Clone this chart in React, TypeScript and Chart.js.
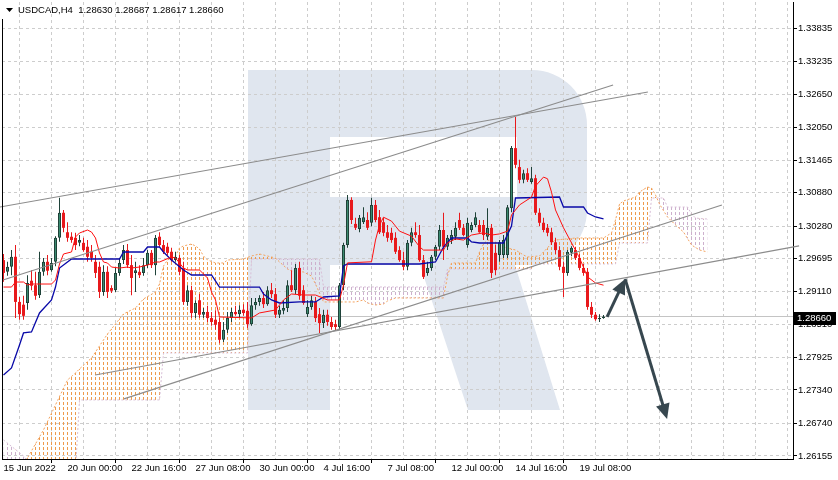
import React, { useEffect, useRef } from 'react';
import { Chart, registerables } from 'chart.js';

Chart.register(...registerables);

const chartTitle = 'USDCAD,H4  1.28630 1.28687 1.28617 1.28660';
const xTickIndex = [0, 16, 32, 48, 64, 80, 96, 112, 128, 144];
const xTickLabels = ['15 Jun 2022', '20 Jun 00:00', '22 Jun 16:00', '27 Jun 08:00', '30 Jun 00:00', '4 Jul 16:00', '7 Jul 08:00', '12 Jul 00:00', '14 Jul 16:00', '19 Jul 08:00'];
const xGridStep = 8;
const yTickValues = [1.33835, 1.33235, 1.3265, 1.3205, 1.31465, 1.3088, 1.3028, 1.29695, 1.2911, 1.2851, 1.27925, 1.2734, 1.2674, 1.26155];
const currentPrice = 1.2866;
const xMin = -0.375;
const xMax = 197.375;
const yMin = 1.26101;
const yMax = 1.34302;

const openP = [
  1.2967, 1.2946, 1.2955, 1.2973, 1.2892, 1.2887, 1.2890, 1.2930, 1.2922, 1.2904,
  1.2946, 1.2964, 1.2949, 1.2964, 1.3007, 1.3052, 1.3017, 1.3009, 1.3007, 1.2998,
  1.2998, 1.2991, 1.2982, 1.2964, 1.2955, 1.2910, 1.2946, 1.2917, 1.2913, 1.2944,
  1.2967, 1.2985, 1.2958, 1.2944, 1.2946, 1.2944, 1.2958, 1.2980, 1.2958, 1.3009,
  1.2994, 1.2991, 1.2982, 1.2967, 1.2971, 1.2953, 1.2892, 1.2913, 1.2872, 1.2895,
  1.2869, 1.2874, 1.2863, 1.2860, 1.2856, 1.2824, 1.2842, 1.2863, 1.2874, 1.2870,
  1.2878, 1.2876, 1.2852, 1.2886, 1.2892, 1.2899, 1.2888, 1.2913, 1.2906, 1.2869,
  1.2876, 1.2881, 1.2922, 1.2913, 1.2953, 1.2913, 1.2870, 1.2883, 1.2892, 1.2870,
  1.2854, 1.2869, 1.2856, 1.2852, 1.2847, 1.2922, 1.2994, 1.3075, 1.3032, 1.3023,
  1.3035, 1.3039, 1.3034, 1.3066, 1.3044, 1.3035, 1.3017, 1.3016, 1.3007, 1.2985,
  1.2967, 1.2955, 1.2998, 1.3017, 1.3012, 1.2967, 1.2944, 1.2953, 1.2973, 1.2991,
  1.3021, 1.2991, 1.3003, 1.3009, 1.3039, 1.3025, 1.2994, 1.3021, 1.3030, 1.3030,
  1.3030, 1.3009, 1.3025, 1.2980, 1.2976, 1.2976, 1.2976, 1.3060, 1.3168, 1.3134,
  1.3111, 1.3123, 1.3107, 1.3114, 1.3052, 1.3034, 1.3025, 1.3017, 1.2999, 1.2985,
  1.2955, 1.2944, 1.2980, 1.2985, 1.2971, 1.2953, 1.2946, 1.2883, 1.2869, 1.2861,
  1.2863
];
const highP = [
  1.2978, 1.2964, 1.2985, 1.2994, 1.2901, 1.2903, 1.2940, 1.2949, 1.2946, 1.2982,
  1.2971, 1.2976, 1.2971, 1.3010, 1.3079, 1.3057, 1.3035, 1.3017, 1.3016, 1.3012,
  1.3007, 1.3003, 1.2994, 1.2976, 1.2964, 1.2958, 1.2956, 1.2922, 1.2953, 1.2971,
  1.2994, 1.2996, 1.2976, 1.2964, 1.2958, 1.2971, 1.2985, 1.2985, 1.3012, 1.3017,
  1.3003, 1.2998, 1.2989, 1.2982, 1.2976, 1.2964, 1.2922, 1.2921, 1.2895, 1.2906,
  1.2881, 1.2885, 1.2874, 1.2877, 1.2863, 1.2856, 1.2874, 1.2881, 1.2885, 1.2886,
  1.2888, 1.2892, 1.2899, 1.2899, 1.2904, 1.2910, 1.2920, 1.2926, 1.2917, 1.2885,
  1.2895, 1.2931, 1.2949, 1.2960, 1.2964, 1.2922, 1.2895, 1.2903, 1.2901, 1.2881,
  1.2878, 1.2878, 1.2865, 1.2860, 1.2926, 1.2998, 1.3084, 1.3080, 1.3043, 1.3048,
  1.3062, 1.3053, 1.3079, 1.3075, 1.3057, 1.3043, 1.3030, 1.3025, 1.3017, 1.2992,
  1.2982, 1.3003, 1.3025, 1.3035, 1.3030, 1.2976, 1.2964, 1.2976, 1.2994, 1.3030,
  1.3052, 1.3012, 1.3021, 1.3035, 1.3052, 1.3032, 1.3043, 1.3035, 1.3053, 1.3039,
  1.3039, 1.3060, 1.3032, 1.2994, 1.3003, 1.3012, 1.3066, 1.3172, 1.3224, 1.3147,
  1.3129, 1.3132, 1.3134, 1.3120, 1.3060, 1.3043, 1.3032, 1.3025, 1.3007, 1.2992,
  1.2964, 1.2985, 1.2992, 1.2991, 1.2978, 1.2960, 1.2953, 1.2892, 1.2874, 1.2870,
  1.28687
];
const lowP = [
  1.2928, 1.2939, 1.2940, 1.2863, 1.2860, 1.2860, 1.2878, 1.2913, 1.2896, 1.2899,
  1.2939, 1.2940, 1.2946, 1.2956, 1.3000, 1.3017, 1.3000, 1.2998, 1.2985, 1.2992,
  1.2982, 1.2964, 1.2964, 1.2935, 1.2899, 1.2903, 1.2899, 1.2908, 1.2910, 1.2939,
  1.2960, 1.2953, 1.2904, 1.2910, 1.2935, 1.2939, 1.2953, 1.2953, 1.2940, 1.2991,
  1.2978, 1.2976, 1.2964, 1.2964, 1.2940, 1.2887, 1.2885, 1.2863, 1.2863, 1.2863,
  1.2863, 1.2856, 1.2849, 1.2842, 1.2818, 1.2820, 1.2836, 1.2856, 1.2867, 1.2863,
  1.2867, 1.2845, 1.2849, 1.2878, 1.2885, 1.2881, 1.2885, 1.2899, 1.2863, 1.2863,
  1.2870, 1.2874, 1.2910, 1.2906, 1.2896, 1.2887, 1.2865, 1.2878, 1.2856, 1.2836,
  1.2845, 1.2849, 1.2842, 1.2840, 1.2842, 1.2913, 1.2989, 1.3032, 1.3021, 1.3017,
  1.3032, 1.3021, 1.3028, 1.3035, 1.3014, 1.3010, 1.3000, 1.2998, 1.2978, 1.2964,
  1.2949, 1.2949, 1.2992, 1.3007, 1.2964, 1.2933, 1.2939, 1.2948, 1.2967, 1.2985,
  1.2967, 1.2985, 1.2996, 1.3003, 1.3021, 1.3010, 1.2989, 1.3017, 1.3026, 1.3016,
  1.3003, 1.3003, 1.2935, 1.2940, 1.2964, 1.2971, 1.2971, 1.3053, 1.3132, 1.3105,
  1.3105, 1.3107, 1.3104, 1.3048, 1.3028, 1.3017, 1.3010, 1.2994, 1.2978, 1.2949,
  1.2901, 1.2939, 1.2974, 1.2967, 1.2949, 1.2939, 1.2878, 1.2863, 1.2858, 1.2856,
  1.28617
];
const closeP = [
  1.2944, 1.2955, 1.2973, 1.2892, 1.2870, 1.2867, 1.2926, 1.2921, 1.2903, 1.2946,
  1.2964, 1.2948, 1.2962, 1.3007, 1.3052, 1.3025, 1.3007, 1.3003, 1.2994, 1.3003,
  1.2985, 1.2973, 1.2971, 1.2944, 1.2910, 1.2946, 1.2910, 1.2912, 1.2944, 1.2962,
  1.2985, 1.2958, 1.2935, 1.2949, 1.2940, 1.2958, 1.2980, 1.2958, 1.3007, 1.2994,
  1.2982, 1.2980, 1.2967, 1.2973, 1.2946, 1.2892, 1.2913, 1.2872, 1.2890, 1.2869,
  1.2874, 1.2863, 1.2856, 1.2851, 1.2824, 1.2842, 1.2863, 1.2874, 1.2870, 1.2878,
  1.2872, 1.2852, 1.2886, 1.2892, 1.2899, 1.2888, 1.2913, 1.2906, 1.2869, 1.2878,
  1.2881, 1.2922, 1.2913, 1.2953, 1.2903, 1.2890, 1.2883, 1.2895, 1.2863, 1.2854,
  1.2869, 1.2856, 1.2847, 1.2847, 1.2922, 1.2994, 1.3075, 1.3039, 1.3025, 1.3043,
  1.3044, 1.3025, 1.3066, 1.3039, 1.3017, 1.3016, 1.3007, 1.3003, 1.2982, 1.2967,
  1.2955, 1.2998, 1.3017, 1.3012, 1.2967, 1.2937, 1.2953, 1.2973, 1.2991, 1.3021,
  1.2991, 1.3007, 1.3012, 1.3025, 1.3025, 1.3012, 1.3034, 1.3030, 1.3044, 1.3017,
  1.3012, 1.3025, 1.2944, 1.2949, 1.2999, 1.3003, 1.3062, 1.3168, 1.3138, 1.3111,
  1.3123, 1.3111, 1.3114, 1.3052, 1.3034, 1.3021, 1.3016, 1.2999, 1.2985, 1.2955,
  1.2944, 1.2982, 1.2989, 1.2971, 1.2953, 1.2944, 1.2883, 1.2869, 1.2861, 1.2863,
  1.2866
];

const tenkanIdx = [0, 2, 3, 5, 6, 7, 12, 13, 14, 15, 17, 18, 19, 21, 22, 23, 24, 25, 26, 27, 29, 31, 32, 34, 36, 38, 39, 42, 43, 45, 46, 49, 51, 52, 53, 54, 62, 64, 68, 70, 72, 75, 78, 81, 84, 85, 86, 92, 93, 94, 95, 97, 99, 102, 104, 105, 110, 111, 113, 115, 117, 120, 122, 124, 126, 127, 129, 132, 133, 135, 136, 137, 138, 140, 142, 144, 146, 148, 150];
const tenkanVal = [1.29187, 1.29187, 1.29277, 1.29277, 1.29223, 1.29241, 1.29241, 1.29313, 1.296, 1.2978, 1.29816, 1.30085, 1.30157, 1.3021, 1.30174, 1.30067, 1.29798, 1.29636, 1.29618, 1.29546, 1.29528, 1.29546, 1.29528, 1.29546, 1.29582, 1.29636, 1.29636, 1.29726, 1.29708, 1.29528, 1.29493, 1.29493, 1.29349, 1.29098, 1.28955, 1.2865, 1.28632, 1.28722, 1.28775, 1.28955, 1.29062, 1.29044, 1.29044, 1.28955, 1.28955, 1.29223, 1.2962, 1.2964, 1.3003, 1.303, 1.3044, 1.3037, 1.3019, 1.301, 1.2991, 1.2985, 1.2985, 1.2998, 1.3005, 1.3003, 1.3012, 1.3016, 1.3012, 1.3014, 1.3019, 1.3048, 1.3066, 1.308, 1.31, 1.3116, 1.3113, 1.3089, 1.3057, 1.3025, 1.2998, 1.2971, 1.2937, 1.2926, 1.2922];

const kijunIdx = [0, 2, 4, 5, 7, 9, 12, 13, 14, 17, 29, 30, 35, 36, 39, 40, 42, 45, 47, 52, 54, 64, 65, 67, 69, 74, 78, 80, 84, 85, 86, 104, 108, 110, 112, 116, 117, 119, 125, 127, 128, 139, 140, 145, 146, 148, 150];
const kijunVal = [1.27609, 1.27735, 1.28148, 1.28363, 1.28381, 1.28722, 1.28955, 1.29187, 1.29528, 1.2969, 1.2969, 1.29816, 1.29816, 1.29905, 1.29905, 1.29816, 1.29672, 1.29493, 1.29403, 1.29403, 1.29187, 1.29187, 1.29062, 1.28955, 1.28901, 1.28919, 1.28919, 1.29008, 1.29026, 1.29564, 1.296, 1.296, 1.29636, 1.29905, 1.30067, 1.30067, 1.29995, 1.29977, 1.29977, 1.30282, 1.30785, 1.30803, 1.30623, 1.30623, 1.30516, 1.30444, 1.30408];

const cloudIdx = [0, 5, 6, 8, 10, 16, 18, 19, 22, 26, 30, 33, 35, 38, 39, 40, 41, 43, 44, 45, 47, 48, 49, 50, 51, 53, 55, 56, 60, 61, 62, 64, 66, 68, 69, 71, 72, 75, 77, 78, 79, 80, 88, 90, 91, 93, 95, 96, 98, 110, 111, 112, 118, 119, 120, 121, 123, 125, 128, 130, 131, 132, 133, 134, 136, 137, 138, 143, 150, 152, 153, 154, 155, 158, 159, 161, 162, 163, 164, 165, 166, 168, 170, 171, 172, 173, 174, 176];
const spanA = [
  1.25905, 1.26049, 1.2612, 1.26372, 1.26623, 1.2752, 1.27645, 1.27717, 1.27914, 1.28345,
  1.28704, 1.28811, 1.28973, 1.29098, 1.29241, 1.29564, 1.29672, 1.29744, 1.29888, 1.29924,
  1.29959, 1.29924, 1.2987, 1.29744, 1.29672, 1.29619, 1.29619, 1.29672, 1.2969, 1.29717,
  1.29744, 1.2978, 1.29744, 1.29708, 1.29637, 1.29511, 1.29475, 1.29457, 1.29385, 1.29241,
  1.29081, 1.28919, 1.28919, 1.28955, 1.28901, 1.28865, 1.28883, 1.28937, 1.28991, 1.28991,
  1.29385, 1.29619, 1.29619, 1.29816, 1.29959, 1.30031, 1.29995, 1.29906, 1.29852, 1.29762,
  1.29726, 1.29732, 1.29739, 1.29744, 1.29888, 1.29977, 1.30031, 1.30067, 1.30067, 1.30157,
  1.3039, 1.30677, 1.30731, 1.30803, 1.30892, 1.30982, 1.30964, 1.30839, 1.30677, 1.30557,
  1.30444, 1.303, 1.30175, 1.30058, 1.29941, 1.29897, 1.29852, 1.29816
];
const spanB = [
  1.26443, 1.26156, 1.26067, 1.25905, 1.25905, 1.25905, 1.25905, 1.27161, 1.27161, 1.27161,
  1.27161, 1.27161, 1.27161, 1.27161, 1.27161, 1.28004, 1.28004, 1.28004, 1.28004, 1.28004,
  1.28004, 1.28004, 1.28004, 1.28004, 1.28004, 1.28004, 1.28004, 1.28004, 1.28004, 1.28004,
  1.2969, 1.2969, 1.2969, 1.2969, 1.2969, 1.2969, 1.2969, 1.2969, 1.2969, 1.2969,
  1.2969, 1.29188, 1.29188, 1.29188, 1.29188, 1.29188, 1.29188, 1.29188, 1.29188, 1.29188,
  1.29511, 1.29511, 1.29511, 1.29511, 1.29511, 1.29511, 1.29511, 1.29511, 1.29511, 1.29511,
  1.29511, 1.29511, 1.29601, 1.29601, 1.29601, 1.29601, 1.29601, 1.29601, 1.29601, 1.29601,
  1.29601, 1.29977, 1.29977, 1.29977, 1.29977, 1.29977, 1.30785, 1.30785, 1.30785, 1.30785,
  1.30623, 1.30623, 1.30623, 1.30623, 1.30498, 1.30426, 1.30417, 1.30408
];

const trendStartIdx = [-0.875, -0.125, 22.9, 30.1];
const trendStartPrice = [1.30623, 1.29313, 1.27609, 1.27179];
const trendEndIdx = [161.1, 152.4, 198.9, 179.6];
const trendEndPrice = [1.32687, 1.32812, 1.29924, 1.30659];

const arrowIdx = [150.9, 155.4, 165.9];
const arrowPrice = [1.2865, 1.29332, 1.2682];

const FONT = '"Liberation Sans", Arial, sans-serif';
const ORANGE = '#f4a460';
const ORANGE_HATCH = '#ee9a4c';
const THISTLE = '#d8bfd8';
const THISTLE_HATCH = '#cdb0cd';

function drawArrow(ctx: CanvasRenderingContext2D, a: any, b: any) {
  const dx = b.x - a.x;
  const dy = b.y - a.y;
  const len = Math.hypot(dx, dy);
  const ux = dx / len;
  const uy = dy / len;
  const headLen = 15;
  const headW = 7;
  const bx = b.x - ux * headLen;
  const by = b.y - uy * headLen;
  ctx.beginPath();
  ctx.moveTo(a.x, a.y);
  ctx.lineTo(bx + ux * 2, by + uy * 2);
  ctx.stroke();
  ctx.beginPath();
  ctx.moveTo(b.x, b.y);
  ctx.lineTo(bx - uy * headW, by + ux * headW);
  ctx.lineTo(bx + uy * headW, by - ux * headW);
  ctx.closePath();
  ctx.fill();
}

function drawCloud(chart: any) {
  const ctx = chart.ctx as CanvasRenderingContext2D;
  const xs = chart.scales.x;
  const ys = chart.scales.y;
  const a = chart.chartArea;
  const P = cloudIdx.map((v, k) => ({
    x: xs.getPixelForValue(v),
    ya: ys.getPixelForValue(spanA[k]),
    yb: ys.getPixelForValue(spanB[k])
  }));
  const n = P.length;
  const region = new Path2D();
  P.forEach((p, k) => (k ? region.lineTo(p.x, p.ya) : region.moveTo(p.x, p.ya)));
  for (let k = n - 1; k >= 0; k--) region.lineTo(P[k].x, P[k].yb);
  region.closePath();
  const aboveB = new Path2D();
  aboveB.moveTo(P[0].x, a.top - 20);
  P.forEach((p) => aboveB.lineTo(p.x, p.yb));
  aboveB.lineTo(P[n - 1].x, a.top - 20);
  aboveB.closePath();
  const belowB = new Path2D();
  belowB.moveTo(P[0].x, a.bottom + 20);
  P.forEach((p) => belowB.lineTo(p.x, p.yb));
  belowB.lineTo(P[n - 1].x, a.bottom + 20);
  belowB.closePath();
  const lastBar = cloudIdx[n - 1];
  const hatch = (side: Path2D, color: string) => {
    ctx.save();
    ctx.beginPath();
    ctx.rect(a.left, a.top, a.right - a.left, a.bottom - a.top);
    ctx.clip();
    ctx.clip(region);
    ctx.clip(side);
    ctx.strokeStyle = color;
    ctx.lineWidth = 1;
    ctx.setLineDash([3, 2]);
    ctx.beginPath();
    for (let k = 0; k <= lastBar; k++) {
      const x = xs.getPixelForValue(k);
      ctx.moveTo(x, a.top);
      ctx.lineTo(x, a.bottom);
    }
    ctx.stroke();
    ctx.restore();
  };
  hatch(aboveB, ORANGE_HATCH);
  hatch(belowB, THISTLE_HATCH);
}

const decorPlugin = {
  id: 'decor',
  beforeDraw(chart: any) {
    const ctx = chart.ctx as CanvasRenderingContext2D;
    ctx.save();
    ctx.fillStyle = '#ffffff';
    ctx.fillRect(0, 0, chart.width, chart.height);
    ctx.fillStyle = '#e0e6ef';
    ctx.beginPath();
    ctx.moveTo(248, 70);
    ctx.lineTo(532, 70);
    ctx.arcTo(587, 70, 587, 125, 55);
    ctx.lineTo(587, 210);
    ctx.arcTo(587, 265, 532, 265, 55);
    ctx.lineTo(248, 265);
    ctx.closePath();
    ctx.rect(330, 137, 187, 60);
    ctx.fill('evenodd');
    ctx.beginPath();
    ctx.rect(248, 265, 82, 145);
    ctx.moveTo(420, 265);
    ctx.lineTo(515, 265);
    ctx.lineTo(560, 410);
    ctx.lineTo(468, 410);
    ctx.closePath();
    ctx.fill();
    ctx.restore();
  },
  beforeDatasetsDraw(chart: any) {
    const ctx = chart.ctx as CanvasRenderingContext2D;
    const a = chart.chartArea;
    drawCloud(chart);
    const py = Math.round(chart.scales.y.getPixelForValue(currentPrice)) + 0.5;
    ctx.save();
    ctx.strokeStyle = '#c4c4c4';
    ctx.lineWidth = 1;
    ctx.beginPath();
    ctx.moveTo(a.left, py);
    ctx.lineTo(a.right, py);
    ctx.stroke();
    ctx.restore();
  },
  afterDatasetsDraw(chart: any) {
    const ctx = chart.ctx as CanvasRenderingContext2D;
    const xs = chart.scales.x;
    const ys = chart.scales.y;
    const pts = arrowIdx.map((v, k) => ({ x: xs.getPixelForValue(v), y: ys.getPixelForValue(arrowPrice[k]) }));
    ctx.save();
    ctx.strokeStyle = '#37474f';
    ctx.fillStyle = '#37474f';
    ctx.lineWidth = 3;
    ctx.lineCap = 'butt';
    drawArrow(ctx, pts[0], pts[1]);
    drawArrow(ctx, pts[1], pts[2]);
    ctx.restore();
  },
  afterDraw(chart: any) {
    const ctx = chart.ctx as CanvasRenderingContext2D;
    const a = chart.chartArea;
    ctx.save();
    ctx.strokeStyle = '#000000';
    ctx.lineWidth = 1;
    ctx.beginPath();
    ctx.moveTo(a.left + 0.5, 19);
    ctx.lineTo(a.left + 0.5, a.bottom);
    ctx.stroke();
    ctx.fillStyle = '#000000';
    ctx.beginPath();
    ctx.moveTo(6, 8);
    ctx.lineTo(13, 8);
    ctx.lineTo(9.5, 12);
    ctx.closePath();
    ctx.fill();
    ctx.font = '9.5px ' + FONT;
    ctx.textBaseline = 'middle';
    ctx.textAlign = 'left';
    ctx.fillText(chartTitle, 18, 10.5);
    const py = Math.round(chart.scales.y.getPixelForValue(currentPrice));
    ctx.fillStyle = '#000000';
    ctx.fillRect(a.right + 1, py - 4, 42, 13);
    ctx.fillStyle = '#ffffff';
    ctx.fillText(currentPrice.toFixed(5), a.right + 4, py + 2.5);
    ctx.restore();
  }
};

export default function App() {
  const ref = useRef<HTMLCanvasElement>(null);

  useEffect(() => {
    const canvas = ref.current as HTMLCanvasElement;

    const bars = openP.map((o, i) => ({ i, o, h: highP[i], l: lowP[i], c: closeP[i], up: closeP[i] >= o }));
    const bull = bars.filter((b) => b.up);
    const bear = bars.filter((b) => !b.up);
    const pts = (xs: number[], ys: number[]) => xs.map((x, k) => ({ x, y: ys[k] }));

    const bullColor = '#3b8a6f';
    const bullEdge = '#1f4239';
    const bearColor = '#e8191c';

    const datasets: any[] = [
      {
        type: 'line', data: pts(cloudIdx, spanA), borderColor: ORANGE, borderWidth: 1, borderDash: [2, 2],
        pointRadius: 0, tension: 0, fill: false, order: 8
      },
      {
        type: 'line', data: pts(cloudIdx, spanB), borderColor: THISTLE, borderWidth: 1, borderDash: [2, 2],
        pointRadius: 0, tension: 0, fill: false, order: 9
      },
      {
        type: 'bar', data: bear.map((b) => ({ x: b.i, y: [b.l, b.h] })), backgroundColor: bearColor,
        barThickness: 1, maxBarThickness: 1, grouped: false, inflateAmount: 0, borderWidth: 0, order: 5
      },
      {
        type: 'bar', data: bull.map((b) => ({ x: b.i, y: [b.l, b.h] })), backgroundColor: bullEdge,
        barThickness: 1, maxBarThickness: 1, grouped: false, inflateAmount: 0, borderWidth: 0, order: 5
      },
      {
        type: 'bar', data: bear.map((b) => ({ x: b.i, y: [b.c, b.o] })), backgroundColor: bearColor,
        barThickness: 3, maxBarThickness: 3, grouped: false, inflateAmount: 0, borderWidth: 0, minBarLength: 1, order: 4
      },
      {
        type: 'bar', data: bull.map((b) => ({ x: b.i, y: [b.o, b.c] })), backgroundColor: bullColor,
        borderColor: bullEdge, borderWidth: 1, borderSkipped: false,
        barThickness: 3, maxBarThickness: 3, grouped: false, inflateAmount: 0, minBarLength: 1, order: 4
      },
      { type: 'line', data: pts(tenkanIdx, tenkanVal), borderColor: '#ff1010', borderWidth: 1, pointRadius: 0, tension: 0, fill: false, order: 2 },
      { type: 'line', data: pts(kijunIdx, kijunVal), borderColor: '#0909a8', borderWidth: 1.3, pointRadius: 0, tension: 0, fill: false, order: 2 },
      ...trendStartIdx.map((s, k) => ({
        type: 'line',
        data: [{ x: s, y: trendStartPrice[k] }, { x: trendEndIdx[k], y: trendEndPrice[k] }],
        borderColor: '#8c8c8c', borderWidth: 1.2, pointRadius: 0, fill: false, clip: false, order: 1
      }))
    ];

    const majorSet = new Set(xTickIndex);

    const chart = new Chart(canvas, {
      type: 'line',
      data: { datasets },
      plugins: [decorPlugin],
      options: {
        animation: false,
        responsive: false,
        maintainAspectRatio: false,
        devicePixelRatio: 1,
        events: [],
        layout: { padding: { left: 2, top: 2, right: 0, bottom: 0 } },
        plugins: { legend: { display: false }, tooltip: { enabled: false }, title: { display: false } },
        scales: {
          x: {
            type: 'linear',
            min: xMin,
            max: xMax,
            offset: false,
            bounds: 'data',
            afterBuildTicks: (s: any) => {
              const t: any[] = [];
              for (let v = 0; v <= xMax; v += xGridStep) t.push({ value: v });
              s.ticks = t;
            },
            afterFit: (s: any) => {
              s.height = 21;
              s.paddingLeft = 0;
              s.paddingRight = 0;
            },
            ticks: {
              autoSkip: false,
              maxRotation: 0,
              minRotation: 0,
              align: 'start',
              padding: 0,
              color: '#000000',
              font: { family: FONT, size: 9.5 },
              callback: (v: any) => {
                const k = xTickIndex.indexOf(Number(v));
                return k >= 0 ? xTickLabels[k] : '';
              }
            },
            grid: {
              color: '#cdcdcd',
              lineWidth: 1,
              tickLength: 4,
              tickColor: (c: any) => (c.tick && majorSet.has(c.tick.value) ? '#000000' : 'rgba(0,0,0,0)')
            },
            border: { display: true, color: '#000000', width: 1, dash: [3, 3] }
          },
          y: {
            type: 'linear',
            position: 'right',
            min: yMin,
            max: yMax,
            bounds: 'data',
            afterBuildTicks: (s: any) => {
              s.ticks = yTickValues.map((v) => ({ value: v }));
            },
            afterFit: (s: any) => {
              s.width = 45;
              s.paddingTop = 0;
              s.paddingBottom = 0;
            },
            ticks: {
              autoSkip: false,
              padding: 1,
              color: '#000000',
              font: { family: FONT, size: 9.5 },
              callback: (v: any) => Number(v).toFixed(5)
            },
            grid: { color: '#cdcdcd', lineWidth: 1, tickLength: 4, tickColor: '#000000' },
            border: { display: true, color: '#000000', width: 1, dash: [3, 3] }
          }
        }
      } as any
    } as any);

    return () => {
      chart.destroy();
    };
  }, []);

  return (
    <div style={{ position: 'absolute', left: 0, top: 0, width: 838, height: 480, background: '#ffffff' }}>
      <canvas ref={ref} width={838} height={480} style={{ width: 838, height: 480, display: 'block' }} />
    </div>
  );
}
